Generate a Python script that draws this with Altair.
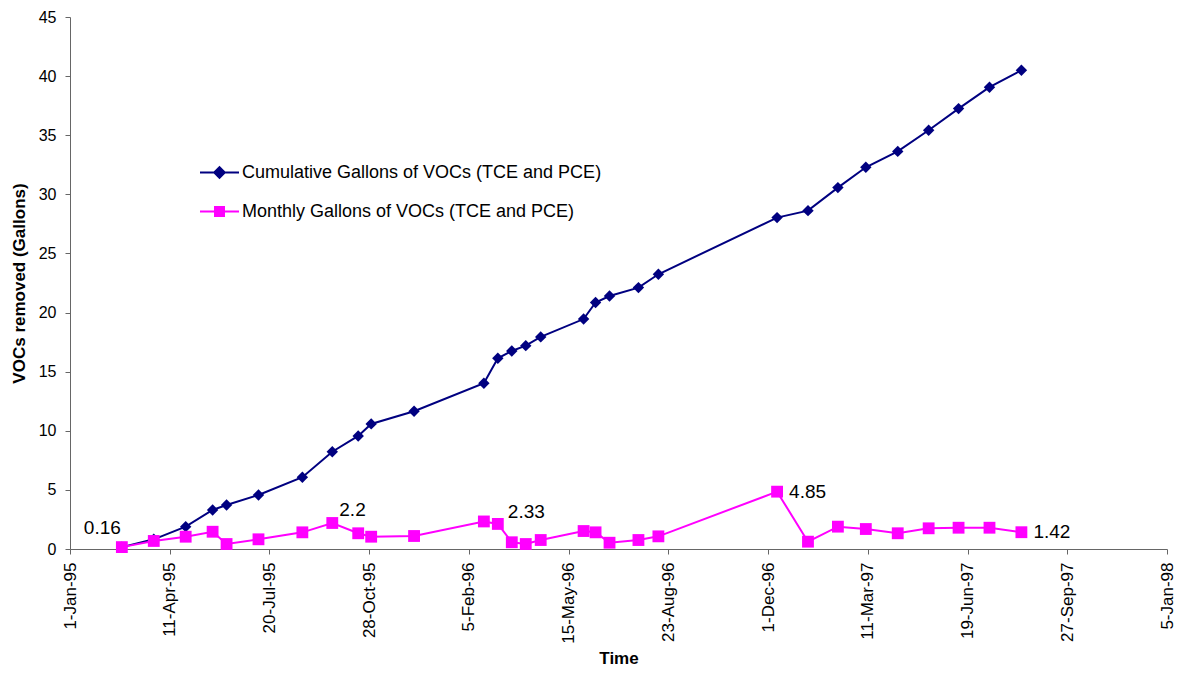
import altair as alt
import pandas as pd

# ---------------- data ----------------
dates = ["1995-02-22", "1995-03-26", "1995-04-27", "1995-05-24", "1995-06-07",
         "1995-07-09", "1995-08-22", "1995-09-21", "1995-10-17", "1995-10-30",
         "1995-12-12", "1996-02-20", "1996-03-05", "1996-03-19", "1996-04-02",
         "1996-04-17", "1996-05-30", "1996-06-11", "1996-06-25", "1996-07-24",
         "1996-08-13", "1996-12-10", "1997-01-10", "1997-02-09", "1997-03-09",
         "1997-04-10", "1997-05-11", "1997-06-10", "1997-07-11", "1997-08-12"]

cumulative = [0.16, 0.82, 1.89, 3.30, 3.72, 4.57, 6.07, 8.23, 9.56, 10.58,
              11.65, 14.02, 16.13, 16.75, 17.20, 17.94, 19.45, 20.85, 21.40, 22.11,
              23.24, 28.03, 28.62, 30.57, 32.29, 33.63, 35.42, 37.25, 39.06, 40.50]

monthly = [0.16, 0.68, 1.04, 1.46, 0.42, 0.82, 1.41, 2.20, 1.33, 1.04,
           1.10, 2.33, 2.12, 0.57, 0.42, 0.76, 1.52, 1.41, 0.53, 0.76,
           1.07, 4.85, 0.62, 1.89, 1.69, 1.33, 1.75, 1.80, 1.80, 1.42]

series_names = ["Cumulative Gallons of VOCs (TCE and PCE)",
                "Monthly Gallons of VOCs (TCE and PCE)"]
series_colors = ["#000080", "#FF00FF"]

label_index = [0, 7, 11, 21, 29]
label_text = ["0.16", "2.2", "2.33", "4.85", "1.42"]

x_tick_dates = ["1995-01-01", "1995-04-11", "1995-07-20", "1995-10-28",
                "1996-02-05", "1996-05-15", "1996-08-23", "1996-12-01",
                "1997-03-11", "1997-06-19", "1997-09-27", "1998-01-05"]
y_ticks = [0, 5, 10, 15, 20, 25, 30, 35, 40, 45]

# ---------------- tables ----------------
df = pd.concat([
    pd.DataFrame({"date": dates, "value": cumulative, "series": series_names[0]}),
    pd.DataFrame({"date": dates, "value": monthly, "series": series_names[1]}),
], ignore_index=True)

lab_df = pd.DataFrame({
    "date": [dates[i] for i in label_index],
    "value": [monthly[i] for i in label_index],
    "text": label_text,
})


def dt(s):
    t = pd.Timestamp(s)
    return alt.DateTime(year=t.year, month=t.month, date=t.day, utc=True)


FONT = "Liberation Sans"

x_enc = alt.X(
    "date:T",
    scale=alt.Scale(type="utc", domain=[dt(x_tick_dates[0]), dt(x_tick_dates[-1])]),
    axis=alt.Axis(values=[dt(s) for s in x_tick_dates], format="%-d-%b-%y",
                  labelAngle=-90, labelFontSize=17, labelPadding=8, tickSize=5,
                  title="Time", titleFontSize=17, titleFontWeight="bold",
                  titlePadding=7, grid=False, domainColor="#666666",
                  tickColor="#666666", labelColor="#000000", titleColor="#000000"),
)
y_enc = alt.Y(
    "value:Q",
    scale=alt.Scale(domain=[0, 45], nice=False),
    axis=alt.Axis(values=y_ticks, labelFontSize=16, labelPadding=9, tickSize=5,
                  title="VOCs removed (Gallons)", titleFontSize=17,
                  titleFontWeight="bold", titlePadding=10, grid=False,
                  domainColor="#666666", tickColor="#666666",
                  labelColor="#000000", titleColor="#000000"),
)

base = alt.Chart(df)
cum = base.transform_filter(alt.datum.series == series_names[0])
mon = base.transform_filter(alt.datum.series == series_names[1])

cum_line = cum.mark_line(color=series_colors[0], strokeWidth=2).encode(x=x_enc, y=y_enc)
cum_pts = cum.mark_point(filled=True, shape="diamond", size=130, opacity=1,
                         color=series_colors[0]).encode(x="date:T", y="value:Q")
mon_line = mon.mark_line(color=series_colors[1], strokeWidth=2).encode(x="date:T", y="value:Q")
mon_pts = mon.mark_point(filled=True, shape="square", size=140, opacity=1,
                         color=series_colors[1]).encode(x="date:T", y="value:Q")

# legend (line + marker symbols), produced by an invisible layer
cum_path = "M-1,0L1,0M-0.27,0L0,-0.27L0.27,0L0,0.27Z"
mon_path = "M-1,0L1,0M-0.23,-0.23L0.23,-0.23L0.23,0.23L-0.23,0.23Z"
leg = alt.Legend(orient="none", legendX=129, legendY=135, title=None,
                 labelFont=FONT, labelFontSize=18, labelColor="#000000",
                 labelLimit=0, symbolSize=1521, symbolStrokeWidth=2,
                 symbolFillColor="#000000", labelOffset=2,
                 rowPadding=9, padding=0)
legend_layer = base.mark_point(filled=True, opacity=0, size=10).encode(
    x="date:T", y="value:Q",
    color=alt.Color("series:N", scale=alt.Scale(domain=series_names, range=series_colors), legend=leg),
    stroke=alt.Stroke("series:N", scale=alt.Scale(domain=series_names, range=series_colors), legend=leg),
    shape=alt.Shape("series:N", scale=alt.Scale(domain=series_names, range=[cum_path, mon_path]), legend=leg),
)

# data labels
lab = alt.Chart(lab_df)
label_styles = [("right", -1, -19), ("left", 7, -13), ("left", 24, -9),
                ("left", 12, 0), ("left", 12, 0)]
label_layers = []
for t, (al, ddx, ddy) in zip(label_text, label_styles):
    label_layers.append(
        lab.transform_filter(alt.datum.text == t).mark_text(
            align=al, baseline="middle", dx=ddx, dy=ddy, fontSize=19,
            font=FONT, color="#000000").encode(x="date:T", y="value:Q", text="text:N")
    )

chart = alt.layer(cum_line, mon_line, cum_pts, mon_pts, legend_layer, *label_layers).properties(
    width=1097, height=532,
    autosize=alt.AutoSizeParams(type="none"),
    padding={"left": 62, "top": 9, "right": 8, "bottom": 120},
).configure(font=FONT).configure_view(stroke=None).configure_axis(
    labelFont=FONT, titleFont=FONT)

chart.save("out.html", embed_options={"renderer": "svg", "actions": False})
